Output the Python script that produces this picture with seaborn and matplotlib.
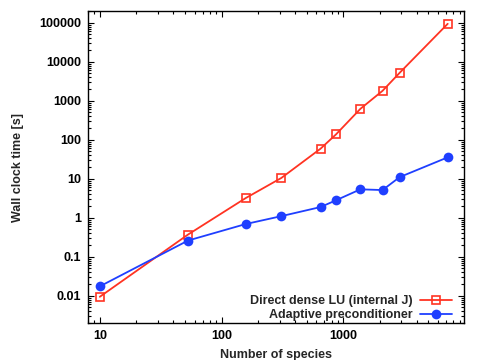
import matplotlib
matplotlib.use('Agg')
import matplotlib.pyplot as plt
import matplotlib.ticker as mticker
import seaborn as sns
import pandas as pd
import numpy as np

# データ
species = [10, 53, 158, 310, 650, 870, 1380, 2100, 2900, 7200]
direct_lu = [0.0094, 0.37, 3.2, 10.5, 59, 137, 620, 1800, 5200, 94000]
adaptive = [0.0174, 0.26, 0.69, 1.1, 1.88, 2.8, 5.35, 5.13, 11, 35.4]

x_ticks = [10, 100, 1000, 10000]
x_ticklabels = ['10', '100', '1000', '10000']
y_ticks = [0.01, 0.1, 1, 10, 100, 1000, 10000, 100000]
y_ticklabels = ['0.01', '0.1', '1', '10', '100', '1000', '10000', '100000']

label_direct = 'Direct dense LU (internal J)'
label_adaptive = 'Adaptive preconditioner'

df = pd.DataFrame({
    'species': species * 2,
    'time': direct_lu + adaptive,
    'method': [label_direct] * len(species) + [label_adaptive] * len(species),
})

sns.set_style('ticks')
plt.rcParams['font.family'] = ['Liberation Sans', 'DejaVu Sans']
plt.rcParams['font.weight'] = 'bold'
plt.rcParams['font.size'] = 9

red = '#ff3322'
blue = '#1f3fff'

fig = plt.figure(figsize=(4.82, 3.6), dpi=100)
ax = fig.add_axes([0.1826, 0.1028, 0.7801, 0.8666])

sns.lineplot(data=df[df.method == label_direct], x='species', y='time',
             color=red, marker='s', markersize=6, markerfacecolor='none',
             markeredgecolor=red, markeredgewidth=1.2, linewidth=1.3,
             label=label_direct, ax=ax)
sns.lineplot(data=df[df.method == label_adaptive], x='species', y='time',
             color=blue, marker='o', markersize=7, markeredgewidth=0,
             linewidth=1.3, label=label_adaptive, ax=ax)

ax.set_xscale('log')
ax.set_yscale('log')
ax.set_xlim(8, 9800)
ax.set_ylim(0.002, 200000)

ax.xaxis.set_major_locator(mticker.FixedLocator(x_ticks))
ax.yaxis.set_major_locator(mticker.FixedLocator(y_ticks))
ax.xaxis.set_major_formatter(mticker.FixedFormatter(x_ticklabels))
ax.yaxis.set_major_formatter(mticker.FixedFormatter(y_ticklabels))
ax.xaxis.set_minor_locator(mticker.LogLocator(base=10, subs=np.arange(2, 10), numticks=20))
ax.yaxis.set_minor_locator(mticker.LogLocator(base=10, subs=np.arange(2, 10), numticks=20))
ax.yaxis.set_minor_formatter(mticker.NullFormatter())
ax.xaxis.set_minor_formatter(mticker.NullFormatter())

ax.tick_params(which='both', direction='in', top=True, right=True, width=0.8,
               labelsize=9, colors='black')
ax.tick_params(which='major', length=4.5, pad=5)
ax.tick_params(which='minor', length=2.5)
for s in ax.spines.values():
    s.set_linewidth(1.0)
    s.set_color('black')

ax.set_xlabel('Number of species', fontsize=9, fontweight='bold', labelpad=5)
ax.set_ylabel('Wall clock time [s]', fontsize=9, fontweight='bold', labelpad=11)

leg = ax.legend(loc='lower right', frameon=False, markerfirst=False,
                fontsize=9, handlelength=2.5, handletextpad=0.6,
                labelspacing=0.15, borderaxespad=0.0,
                bbox_to_anchor=(0.98, -0.01))
for t in leg.get_texts():
    t.set_fontweight('bold')
    t.set_ha('right')

fig.savefig('out.png', dpi=100)
